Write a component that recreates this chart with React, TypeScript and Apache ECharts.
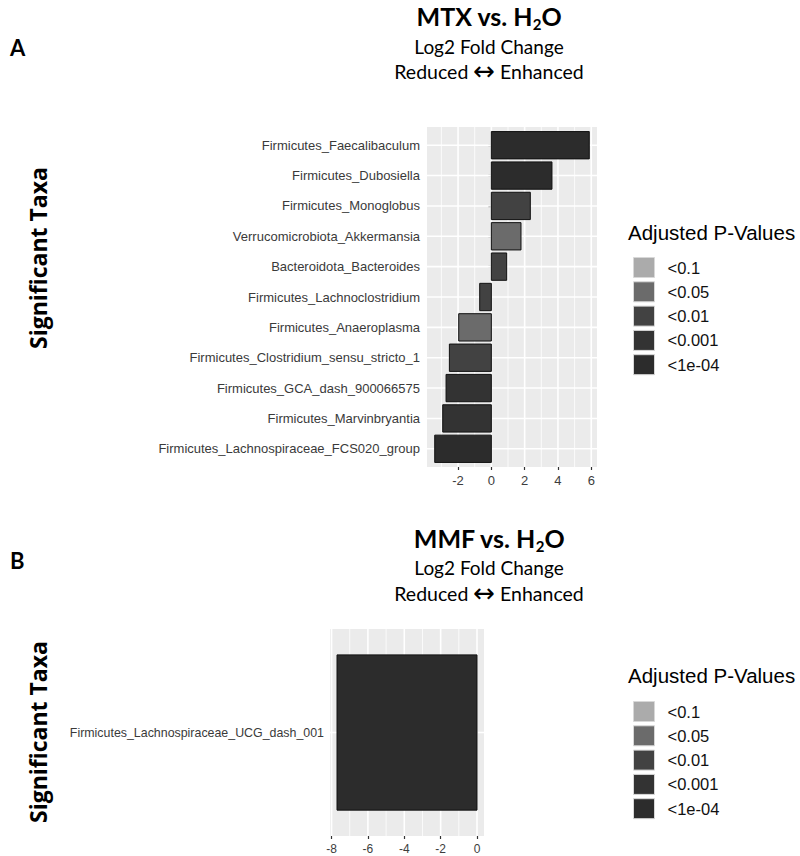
import React, { useEffect, useRef } from 'react';
import * as echarts from 'echarts';

// ---------- data ----------
const taxaA = [
  'Firmicutes_Faecalibaculum',
  'Firmicutes_Dubosiella',
  'Firmicutes_Monoglobus',
  'Verrucomicrobiota_Akkermansia',
  'Bacteroidota_Bacteroides',
  'Firmicutes_Lachnoclostridium',
  'Firmicutes_Anaeroplasma',
  'Firmicutes_Clostridium_sensu_stricto_1',
  'Firmicutes_GCA_dash_900066575',
  'Firmicutes_Marvinbryantia',
  'Firmicutes_Lachnospiraceae_FCS020_group',
];
const lfcA = [5.88, 3.64, 2.34, 1.78, 0.92, -0.7, -1.96, -2.52, -2.72, -2.92, -3.4];
const pA = ['<1e-04', '<1e-04', '<0.01', '<0.05', '<0.01', '<0.01', '<0.05', '<0.01', '<0.001', '<0.001', '<1e-04'];

const taxaB = ['Firmicutes_Lachnospiraceae_UCG_dash_001'];
const lfcB = [-7.7];
const pB = ['<1e-04'];

const pLevels = ['<0.1', '<0.05', '<0.01', '<0.001', '<1e-04'];
const pColors = ['#ababab', '#6b6b6b', '#424242', '#333333', '#2c2c2c'];

const ticksA = [-2, 0, 2, 4, 6];
const ticksB = [-8, -6, -4, -2, 0];

const titleA = 'MTX vs. H';
const titleB = 'MMF vs. H';
const subtitle1 = 'Log2 Fold Change';
const subtitle2a = 'Reduced';
const subtitle2arrow = '\u2194';
const subtitle2b = 'Enhanced';
const yTitle = 'Significant Taxa';
const legendTitle = 'Adjusted P-Values';

// ---------- helpers ----------
function expandRange(vals: number[]) {
  const lo = Math.min(0, ...vals);
  const hi = Math.max(0, ...vals);
  const pad = (hi - lo) * 0.05;
  return [lo - pad, hi + pad];
}
function minorOf(ticks: number[], lo: number, hi: number) {
  const step = ticks[1] - ticks[0];
  const res: number[] = [];
  for (let v = ticks[0] - step / 2; v < hi; v += step) if (v > lo) res.push(v);
  return res;
}

const AXIS_FONT = "'Liberation Sans', Arial, sans-serif";

function buildPanel(
  idx: number,
  taxa: string[],
  lfc: number[],
  pv: string[],
  ticks: number[],
  box: { left: number; top: number; width: number; height: number },
  yFont: number,
  xFont: number,
  yMargin: number
) {
  const n = taxa.length;
  const [xMin, xMax] = expandRange(lfc);
  const yMin = 0.4;
  const yMax = n + 0.6;
  const minor = minorOf(ticks, xMin, xMax);
  const cats = taxa.map((_, i) => n - i);

  const grid = {
    left: box.left,
    top: box.top,
    width: box.width,
    height: box.height,
    show: true,
    backgroundColor: '#EBEBEB',
    borderWidth: 0,
    containLabel: false,
  };
  const xAxis = {
    type: 'value',
    gridIndex: idx,
    min: xMin,
    max: xMax,
    axisLine: { show: false },
    splitLine: { show: false },
    axisTick: { show: true, length: 3, customValues: ticks, lineStyle: { color: '#333', width: 1.2 } },
    axisLabel: {
      customValues: ticks,
      color: '#3d3d3d',
      fontSize: xFont,
      fontFamily: AXIS_FONT,
      margin: 7,
      formatter: (v: number) => String(Math.round(v)),
    },
  };
  const yAxis = {
    type: 'value',
    gridIndex: idx,
    min: yMin,
    max: yMax,
    axisLine: { show: false },
    splitLine: { show: false },
    axisTick: { show: true, length: 3, customValues: cats, lineStyle: { color: '#333', width: 1.2 } },
    axisLabel: {
      customValues: cats,
      color: '#3a3a3a',
      fontSize: yFont,
      fontFamily: AXIS_FONT,
      margin: yMargin,
      formatter: (v: number) => taxa[n - Math.round(v)] ?? '',
    },
  };

  const gridLines = {
    type: 'custom',
    xAxisIndex: idx,
    yAxisIndex: idx,
    silent: true,
    z: 1,
    data: [[0, 1]],
    renderItem: (_p: any, api: any) => {
      const children: any[] = [];
      const vline = (v: number, w: number) => {
        const a = api.coord([v, yMin]);
        const b = api.coord([v, yMax]);
        children.push({ type: 'line', shape: { x1: a[0], y1: a[1], x2: b[0], y2: b[1] }, style: { stroke: '#ffffff', lineWidth: w } });
      };
      minor.forEach((v) => vline(v, 0.8));
      ticks.forEach((v) => vline(v, 1.6));
      cats.forEach((c) => {
        const a = api.coord([xMin, c]);
        const b = api.coord([xMax, c]);
        children.push({ type: 'line', shape: { x1: a[0], y1: a[1], x2: b[0], y2: b[1] }, style: { stroke: '#ffffff', lineWidth: 1.6 } });
      });
      return { type: 'group', children };
    },
  };

  const barSeries = pLevels.map((lvl, li) => ({
    type: 'custom',
    name: lvl,
    xAxisIndex: idx,
    yAxisIndex: idx,
    z: 3,
    itemStyle: { color: pColors[li] },
    data: taxa
      .map((t, i) => ({ value: [lfc[i], n - i], p: pv[i] }))
      .filter((d) => d.p === lvl)
      .map((d) => d.value),
    renderItem: (_p: any, api: any) => {
      const x = api.value(0);
      const y = api.value(1);
      const a = api.coord([0, y + 0.45]);
      const b = api.coord([x, y - 0.45]);
      return {
        type: 'rect',
        shape: {
          x: Math.min(a[0], b[0]),
          y: Math.min(a[1], b[1]),
          width: Math.abs(b[0] - a[0]),
          height: Math.abs(b[1] - a[1]),
        },
        style: { fill: pColors[li], stroke: '#111111', lineWidth: 1 },
      };
    },
  }));

  return { grid, xAxis, yAxis, series: [gridLines, ...barSeries] };
}

function titleText(x: number, y: number, main: string) {
  return {
    type: 'text',
    x,
    y,
    style: {
      text: `{t|${main}}{s|2}{t|O}`,
      textAlign: 'center',
      textVerticalAlign: 'middle',
      rich: {
        t: { fontFamily: 'Lato, sans-serif', fontWeight: 'bold', fontSize: 25, fill: '#000' },
        s: { fontFamily: 'Lato, sans-serif', fontWeight: 'bold', fontSize: 15, fill: '#000', padding: [15, 0, 0, 0] },
      },
    },
  };
}
function arrowText(x: number, y: number) {
  return {
    type: 'text',
    x,
    y,
    style: {
      text: `{w|${subtitle2a} }{a|${subtitle2arrow}}{w| ${subtitle2b}}`,
      textAlign: 'center',
      textVerticalAlign: 'middle',
      rich: {
        w: { fontFamily: 'Lato, sans-serif', fontSize: 19.5, fill: '#000' },
        a: { fontFamily: "'DejaVu Sans', sans-serif", fontSize: 26, fill: '#000' },
      },
    },
  };
}
function plainText(x: number, y: number, text: string, font: any, align = 'center') {
  return {
    type: 'text',
    x,
    y,
    style: { text, textAlign: align, textVerticalAlign: 'middle', fill: '#000', ...font },
  };
}
function legendFor(top: number) {
  return {
    left: 628,
    top,
    orient: 'vertical',
    icon: 'rect',
    itemWidth: 21,
    itemHeight: 20,
    itemGap: 3.3,
    selectedMode: false,
    data: pLevels,
    itemStyle: { borderColor: '#d8d8d8', borderWidth: 1 },
    textStyle: { fontSize: 16.5, color: '#111', fontFamily: AXIS_FONT, padding: [0, 0, 0, 8] },
  };
}

export default function App() {
  const ref = useRef<HTMLDivElement>(null);
  useEffect(() => {
    if (!ref.current) return;
    const chart = echarts.init(ref.current, undefined, { renderer: 'svg' });
    const A = buildPanel(0, taxaA, lfcA, pA, ticksA, { left: 427, top: 127, width: 170, height: 340 }, 13, 13, 7);
    const B = buildPanel(1, taxaB, lfcB, pB, ticksB, { left: 330, top: 629, width: 154, height: 207 }, 12.4, 12, 6);

    const subFont = { fontFamily: 'Lato, sans-serif', fontSize: 19 };
    const panelLetter = { fontFamily: 'Lato, sans-serif', fontWeight: 'bold', fontSize: 22 };
    const yTitleFont = { fontFamily: "'Open Sans', sans-serif", fontWeight: 'bold', fontSize: 23 };
    const legTitleFont = { fontFamily: AXIS_FONT, fontSize: 20.5 };

    chart.setOption({
      animation: false,
      grid: [A.grid, B.grid],
      xAxis: [A.xAxis, B.xAxis],
      yAxis: [A.yAxis, B.yAxis],
      legend: [legendFor(252), legendFor(696)],
      series: [...A.series, ...B.series],
      graphic: [
        plainText(10, 47, 'A', panelLetter, 'left'),
        titleText(489, 16, titleA),
        plainText(489, 46, subtitle1, subFont),
        arrowText(489, 71),
        { ...plainText(0, 0, yTitle, yTitleFont), x: 38, y: 258, rotation: Math.PI / 2 },
        plainText(628, 232, legendTitle, legTitleFont, 'left'),

        plainText(10, 560, 'B', panelLetter, 'left'),
        titleText(489, 538, titleB),
        plainText(489, 567, subtitle1, subFont),
        arrowText(489, 593),
        { ...plainText(0, 0, yTitle, yTitleFont), x: 38, y: 732, rotation: Math.PI / 2 },
        plainText(628, 675, legendTitle, legTitleFont, 'left'),
      ],
    });
    return () => chart.dispose();
  }, []);
  return <div ref={ref} style={{ position: 'absolute', left: 0, top: 0, width: 800, height: 856, background: '#fff' }} />;
}
